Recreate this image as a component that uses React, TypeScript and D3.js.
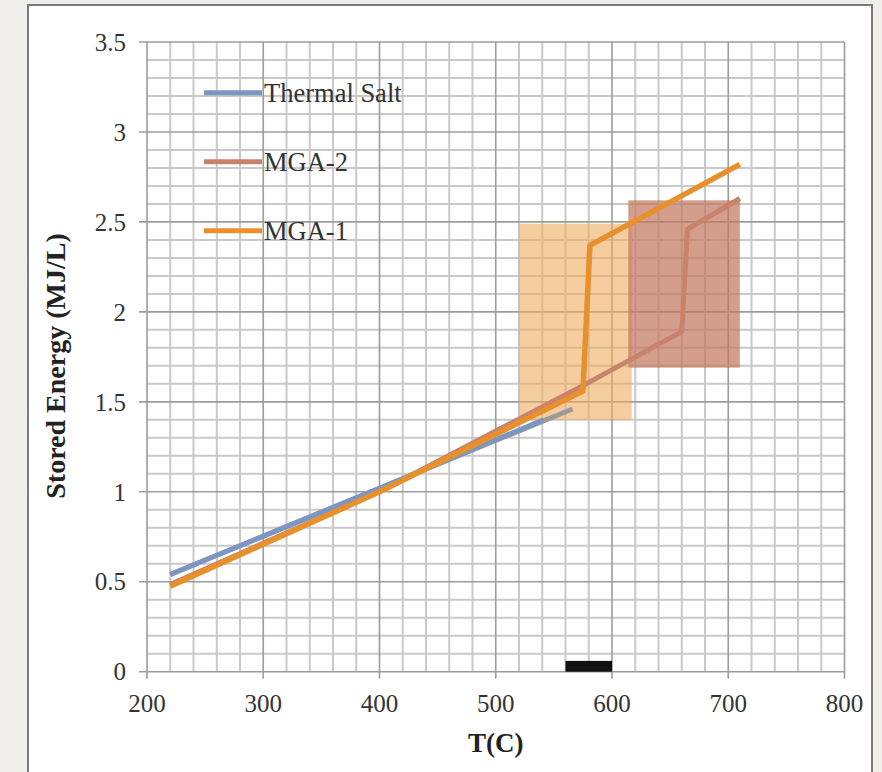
import React from "react";
import * as d3 from "d3";

// chart values
const xTickValues = [200, 300, 400, 500, 600, 700, 800];
const yTickValues = [0, 0.5, 1, 1.5, 2, 2.5, 3, 3.5];
const yTickLabels = ["0", "0.5", "1", "1.5", "2", "2.5", "3", "3.5"];

const thermalSaltT = [220, 400, 541];
const thermalSaltE = [0.54, 1.02, 1.4];
// short grey tail that shows past the blue line
const thermalTailT = [220, 400, 566];
const thermalTailE = [0.54, 1.02, 1.46];

const mga2T = [220, 400, 575, 660, 665, 710];
const mga2E = [0.485, 1.0, 1.59, 1.89, 2.46, 2.63];

const mga1T = [220, 400, 575, 581, 710];
const mga1E = [0.475, 1.0, 1.56, 2.37, 2.82];

// shaded melting ranges
const bandNames = ["MGA-1", "MGA-2"];
const bandT0 = [520, 614];
const bandT1 = [617, 710];
const bandE0 = [1.4, 1.69];
const bandE1 = [2.49, 2.62];
const bandColors = ["#eeab5f", "#c27a60"];
const bandOpacity = [0.6, 0.72];

// black marker on the x axis
const markerT = [560, 600];
const markerE = 0.06;

const legendNames = ["Thermal Salt", "MGA-2", "MGA-1"];
const legendColors = ["#7b96c2", "#c9826b", "#e8912c"];

const W = 882;
const H = 772;
const left = 147;
const right = 844.5;
const top = 42;
const bottom = 671.7;
const font = "'Liberation Serif', 'Times New Roman', serif";

export default function App() {
  const x = d3.scaleLinear().domain([200, 800]).range([left, right]);
  const y = d3.scaleLinear().domain([0, 3.5]).range([bottom, top]);

  const line = d3
    .line<[number, number]>()
    .x((d) => x(d[0]))
    .y((d) => y(d[1]));

  const zip = (a: number[], b: number[]) =>
    a.map((v, i) => [v, b[i]] as [number, number]);

  const minorX = d3.range(220, 800, 20).filter((v) => v % 100 !== 0);
  const minorY = d3.range(1, 35).filter((v) => v % 5 !== 0).map((v) => v / 10);

  return (
    <svg
      width={W}
      height={H}
      style={{ position: "absolute", left: 0, top: 0, background: "#efeeea" }}
    >
      {/* white panel */}
      <rect x={28} y={5} width={844} height={H} fill="#fff" stroke="#7a7a7a" strokeWidth={2} />

      {/* grid */}
      <g>
        {minorX.map((v) => (
          <line key={"mx" + v} x1={x(v)} x2={x(v)} y1={top} y2={bottom} stroke="#c9c9c9" strokeWidth={2} />
        ))}
        {minorY.map((v) => (
          <line key={"my" + v} x1={left} x2={right} y1={y(v)} y2={y(v)} stroke="#c9c9c9" strokeWidth={2} />
        ))}
        {xTickValues.map((v) => (
          <line key={"gx" + v} x1={x(v)} x2={x(v)} y1={top} y2={bottom + 7} stroke="#9c9c9c" strokeWidth={1.6} />
        ))}
        {yTickValues.map((v) => (
          <line key={"gy" + v} x1={left - 8} x2={right} y1={y(v)} y2={y(v)} stroke="#9c9c9c" strokeWidth={1.6} />
        ))}
      </g>

      {/* melting-range bands */}
      {bandNames.map((n, i) => (
        <rect
          key={n}
          x={x(bandT0[i])}
          y={y(bandE1[i])}
          width={x(bandT1[i]) - x(bandT0[i])}
          height={y(bandE0[i]) - y(bandE1[i])}
          fill={bandColors[i]}
          fillOpacity={bandOpacity[i]}
        />
      ))}

      {/* series */}
      <path d={line(zip(thermalTailT, thermalTailE))!} fill="none" stroke="#9a9a9a" strokeWidth={5} />
      <path d={line(zip(thermalSaltT, thermalSaltE))!} fill="none" stroke={legendColors[0]} strokeWidth={5} />
      <path d={line(zip(mga2T, mga2E))!} fill="none" stroke={legendColors[1]} strokeWidth={5} strokeLinejoin="round" />
      <path d={line(zip(mga1T, mga1E))!} fill="none" stroke={legendColors[2]} strokeWidth={5.5} strokeLinejoin="round" />

      {/* black marker */}
      <rect
        x={x(markerT[0])}
        y={y(markerE)}
        width={x(markerT[1]) - x(markerT[0])}
        height={y(0) - y(markerE)}
        fill="#111"
      />

      {/* tick labels */}
      {xTickValues.map((v) => (
        <text key={"xt" + v} x={x(v)} y={712} textAnchor="middle" fontFamily={font} fontSize={25} fill="#333">
          {v}
        </text>
      ))}
      {yTickValues.map((v, i) => (
        <text key={"yt" + v} x={126} y={y(v)} dy="0.35em" textAnchor="end" fontFamily={font} fontSize={25} fill="#333">
          {yTickLabels[i]}
        </text>
      ))}

      {/* legend */}
      {legendNames.map((n, i) => {
        const ly = 92.7 + i * 69;
        return (
          <g key={n}>
            <line x1={204} x2={262} y1={ly} y2={ly} stroke={legendColors[i]} strokeWidth={5} />
            <text x={264} y={ly + 9} fontFamily={font} fontSize={26.5} fill="#333">
              {n}
            </text>
          </g>
        );
      })}

      {/* axis titles */}
      <text
        transform="translate(65,366) rotate(-90)"
        textAnchor="middle"
        fontFamily={font}
        fontSize={28}
        fontWeight="bold"
        fill="#222"
      >
        Stored Energy (MJ/L)
      </text>
      <text x={(left + right) / 2} y={752} textAnchor="middle" fontFamily={font} fontSize={27} fontWeight="bold" fill="#222">
        T(C)
      </text>
    </svg>
  );
}
